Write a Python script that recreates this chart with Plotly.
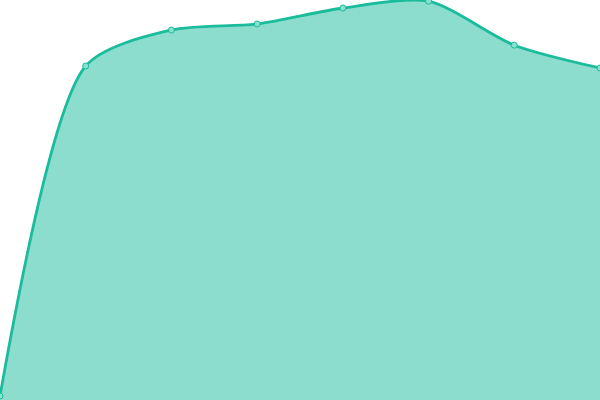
import plotly.graph_objects as go

# x positions (index) and values
steps = [0, 1, 2, 3, 4, 5, 6, 7]
values = [1, 83.5, 92.5, 94, 98, 99.7, 88.7, 83]

fig = go.Figure()
fig.add_trace(go.Scatter(
    x=steps, y=values,
    mode="lines+markers",
    line=dict(color="#1abc9c", width=2.8, shape="spline", smoothing=0.75),
    fill="tozeroy",
    fillcolor="rgba(26,188,156,0.5)",
    marker=dict(size=6, color="#8be0cf", line=dict(color="#1abc9c", width=1)),
    cliponaxis=False,
    hoverinfo="skip",
))

fig.update_layout(
    width=600, height=400,
    margin=dict(l=0, r=0, t=0, b=0),
    paper_bgcolor="white", plot_bgcolor="white",
    showlegend=False,
    xaxis=dict(visible=False, range=[0, 7], fixedrange=True),
    yaxis=dict(visible=False, range=[0, 100], fixedrange=True),
)

# page body has a default 8px margin, drop it so the chart sits at 0,0
fig.write_html("out.html", config={"displayModeBar": False},
               post_script="document.body.style.margin='0';document.body.style.overflow='hidden';")
